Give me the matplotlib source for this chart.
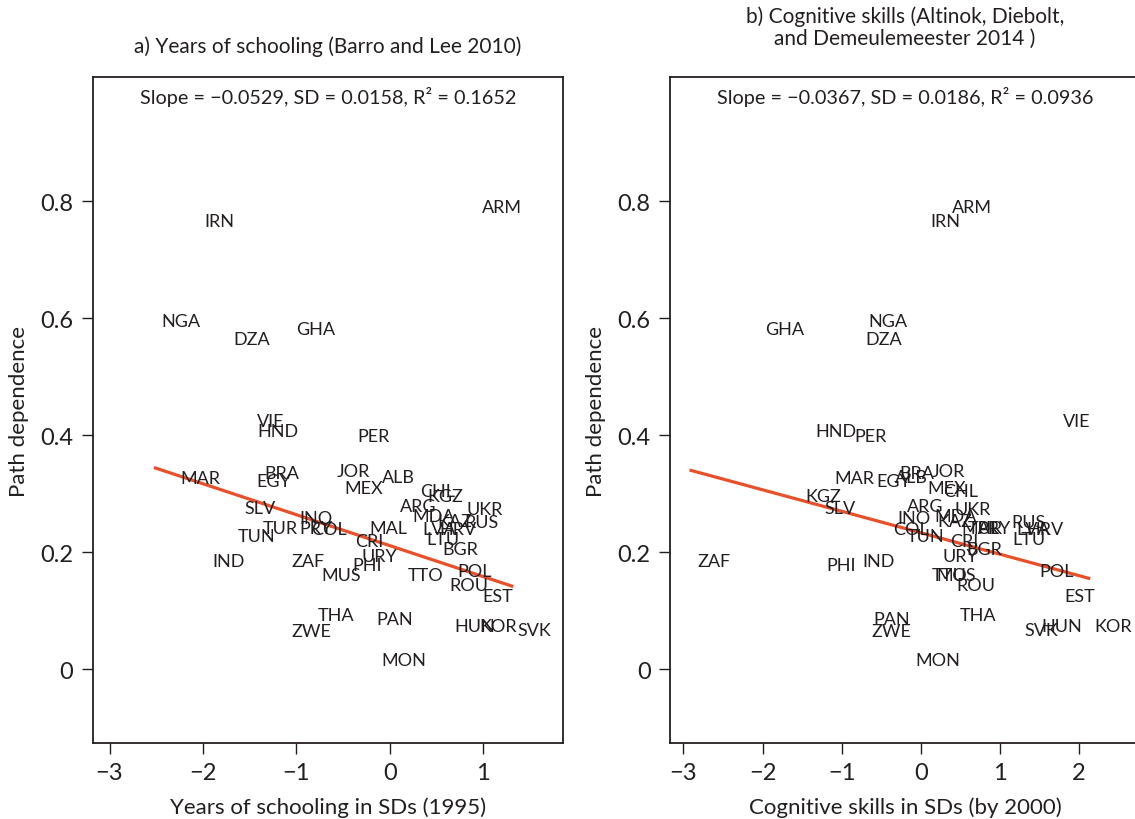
import numpy as np
import matplotlib
matplotlib.use("Agg")
import matplotlib.pyplot as plt

plt.rcParams["font.family"] = ["Lato", "DejaVu Sans"]

# country codes, path dependence (same y in both panels)
countries = ["IRN", "ARM", "NGA", "DZA", "GHA", "VIE", "HND", "PER", "MAR", "BRA",
             "EGY", "JOR", "ALB", "MEX", "CHL", "KGZ", "ARG", "UKR", "MDA", "KAZ",
             "RUS", "LVA", "HRV", "LTU", "BGR", "SLV", "INO", "TUR", "PRY", "COL",
             "TUN", "IND", "MAL", "CRI", "URY", "PHI", "ZAF", "MUS", "THA", "ZWE",
             "PAN", "MON", "TTO", "POL", "ROU", "EST", "HUN", "KOR", "SVK"]

path_dep = [0.766, 0.790, 0.595, 0.564, 0.581, 0.424, 0.407, 0.398, 0.326, 0.335,
            0.321, 0.338, 0.328, 0.309, 0.304, 0.296, 0.279, 0.274, 0.262, 0.253,
            0.251, 0.239, 0.239, 0.222, 0.205, 0.275, 0.258, 0.241, 0.241, 0.239,
            0.227, 0.185, 0.241, 0.219, 0.193, 0.178, 0.185, 0.161, 0.092, 0.065,
            0.085, 0.015, 0.161, 0.168, 0.144, 0.125, 0.074, 0.074, 0.067]

# a) years of schooling in SDs (1995)
schooling = [-2.047, 0.922, -2.508, -1.736, -1.061, -1.490, -1.479, -0.407, -2.304, -1.404,
             -1.490, -0.632, -0.150, -0.547, 0.257, 0.343, 0.043, 0.761, 0.182, 0.450,
             0.740, 0.289, 0.472, 0.332, 0.504, -1.618, -1.029, -1.425, -1.029, -0.900,
             -1.693, -1.961, -0.279, -0.439, -0.364, -0.461, -1.115, -0.793, -0.836, -1.115,
             -0.204, -0.150, 0.129, 0.665, 0.579, 0.932, 0.632, 0.900, 1.308]

# b) cognitive skills in SDs (by 2000)
cognitive = [0.051, 0.316, -0.732, -0.770, -2.045, 1.717, -1.414, -0.909, -1.162, -0.341,
             -0.631, 0.063, -0.404, 0.013, 0.202, -1.540, -0.253, 0.354, 0.101, 0.139,
             1.073, 1.136, 1.263, 1.086, 0.505, -1.288, -0.366, 0.518, 0.644, -0.429,
             -0.253, -0.808, 0.442, 0.290, 0.202, -1.263, -2.904, 0.126, 0.417, -0.694,
             -0.669, -0.139, 0.063, 1.427, 0.379, 1.742, 1.452, 2.121, 1.237]

slopes = [-0.0529, -0.0367]
intercepts = [0.211, 0.233]

titles = ["a) Years of schooling (Barro and Lee 2010)",
          "b) Cognitive skills (Altinok, Diebolt,\nand Demeulemeester 2014 )"]
title_pads = [18, 24]
xlabels = ["Years of schooling in SDs (1995)", "Cognitive skills in SDs (by 2000)"]
stats = ["Slope = \u22120.0529, SD = 0.0158, R\u00b2 = 0.1652",
         "Slope = \u22120.0367, SD = 0.0186, R\u00b2 = 0.0936"]
xticks = [[-3, -2, -1, 0, 1], [-3, -2, -1, 0, 1, 2]]
xlims = [(-3.18, 1.857), (-3.17, 2.77)]

txt = "#231f20"
red = "#e8502a"

fig = plt.figure(figsize=(11.35, 8.2), dpi=100)
ax1 = fig.add_axes([0.0817, 0.0927, 0.4144, 0.812])
ax2 = fig.add_axes([0.5903, 0.0927, 0.4141, 0.812])

for ax, xs, b, a, title, tp, xl, st, xt, lim in zip([ax1, ax2], [schooling, cognitive],
                                                   slopes, intercepts, titles, title_pads,
                                                   xlabels, stats, xticks, xlims):
    x = np.array(xs)
    y = np.array(path_dep)
    for name, xi, yi in zip(countries, x, y):
        ax.annotate(name, (xi, yi), xytext=(4.3, 0), textcoords="offset points",
                    ha="left", va="center", fontsize=13, color=txt)
    xx = np.array([x.min(), x.max()])
    ax.plot(xx, a + b * xx, color=red, lw=2.3)

    ax.set_xlim(lim)
    ax.set_ylim(-0.1265, 1.012)
    ax.set_xticks(xt)
    ax.set_xticklabels([str(v).replace("-", "\u2212") for v in xt])
    ax.set_yticks([0, 0.2, 0.4, 0.6, 0.8])
    ax.set_yticklabels(["0", "0.2", "0.4", "0.6", "0.8"])
    ax.tick_params(direction="out", length=8, width=1, colors=txt,
                   labelsize=17, pad=6)
    for sp in ax.spines.values():
        sp.set_linewidth(1.3)
        sp.set_color(txt)
    ax.set_xlabel(xl, fontsize=16, color=txt, labelpad=9)
    ax.set_ylabel("Path dependence", fontsize=16, color=txt, labelpad=8)
    ax.set_title(title, fontsize=15, color=txt, pad=tp, linespacing=1.12)
    ax.text(0.5, 0.972, st, transform=ax.transAxes, ha="center", va="center",
            fontsize=14.3, color=txt)

fig.savefig("out.png", dpi=100)
